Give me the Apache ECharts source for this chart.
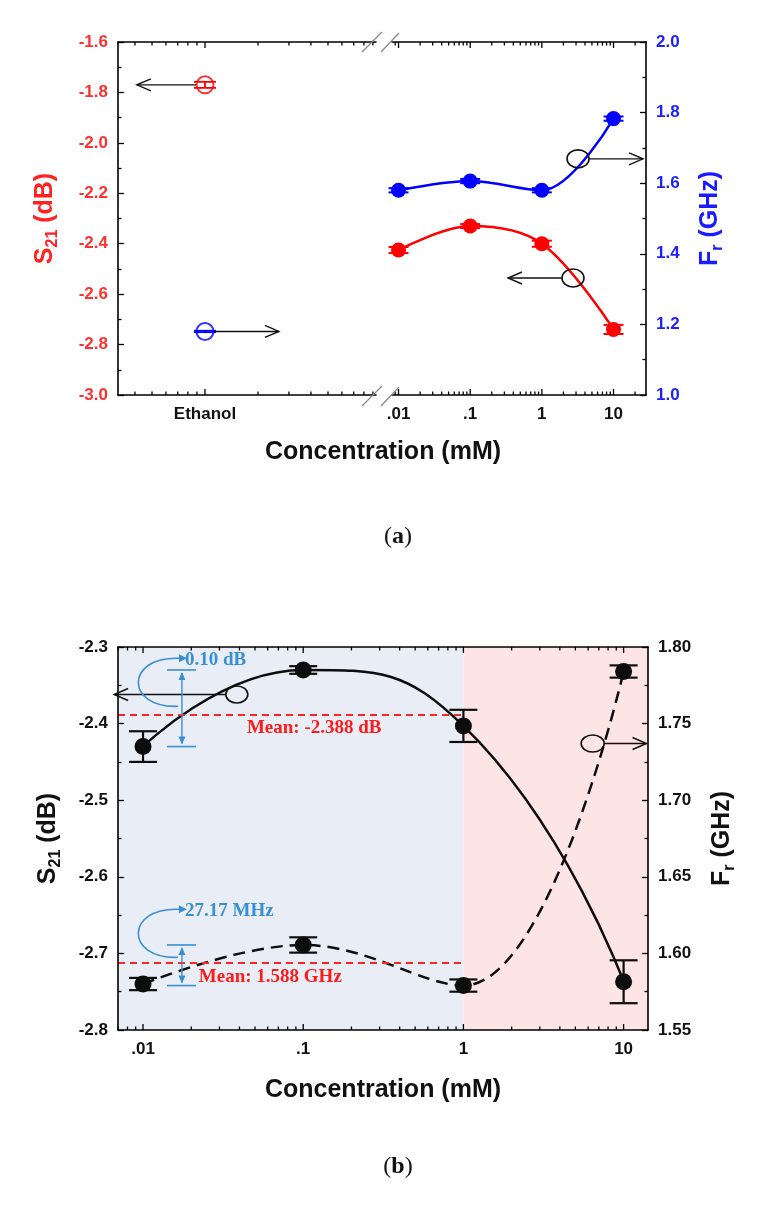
<!DOCTYPE html>
<html>
<head>
<meta charset="utf-8">
<title>S21 and Fr vs concentration</title>
<script src="https://cdn.jsdelivr.net/npm/echarts@6/dist/echarts.min.js"></script>
<style>
html, body { margin: 0; padding: 0; background: #fff; }
#main { width: 757px; height: 1207px; }
</style>
</head>
<body>
<div id="main"></div>
<script>
// ---- panel (a) values ----
var concA = [0.01, 0.1, 1, 10];
var s21A = [-2.425, -2.33, -2.40, -2.74];
var s21ErrA = [0.012, 0.008, 0.012, 0.018];
var frA = [1.58, 1.606, 1.58, 1.783];
var frErrA = [0.006, 0.006, 0.006, 0.006];
var ethanolX = [1];              // where "Ethanol" sits on the left (broken) segment
var ethanolS21 = [-1.77];
var ethanolS21Err = [0.012];
var ethanolFr = [1.18];
var ethanolFrErr = [0.002];

// ---- panel (b) values ----
var concB = [0.01, 0.1, 1, 10];
var s21B = [-2.43, -2.33, -2.403, -2.737];
var s21ErrB = [0.02, 0.005, 0.021, 0.028];
var frB = [1.58, 1.6055, 1.579, 1.784];
var frErrB = [0.004, 0.005, 0.004, 0.004];
var meanS21 = [-2.388];          // dashed line + label
var meanFrText = ['1.588'];      // label value
var meanFrLine = [1.594];        // where the dashed line is drawn in the picture

// ---- tick labels ----
var xTickValues = [0.01, 0.1, 1, 10];
var xTickLabels = ['.01', '.1', '1', '10'];
var ethanolLabel = 'Ethanol';

// axis extents (log axes)
var xMinA0 = 0.3204, xMaxA0 = 9.37;   // left segment of (a)
var xMinA1 = 0.00811, xMaxA1 = 28.4;  // right segment of (a)
var xMinB = 0.00698, xMaxB = 14.2;

var chart = echarts.init(document.getElementById('main'));

//对数坐标刻度（主刻度+次刻度）
function logTicks(min, max) {
    var out = [];
    for (var e = Math.floor(Math.log10(min)); e <= Math.ceil(Math.log10(max)); e++) {
        for (var k = 1; k <= 9; k++) {
            var v = k * Math.pow(10, e);
            if (v > min * 1.0001 && v < max * 0.9999) out.push([v, 0, k === 1 ? 1 : 0]);
        }
    }
    return out;
}

function tickItem(params, api) {
    var cs = params.coordSys;
    var x = api.coord([api.value(0), 0])[0];
    var len = api.value(2) ? 6 : 3.5;
    var top = cs.y, bot = cs.y + cs.height;
    return {
        type: 'group',
        children: [
            { type: 'line', shape: { x1: x, y1: bot, x2: x, y2: bot - len }, style: { stroke: '#000', lineWidth: 1.3 } },
            { type: 'line', shape: { x1: x, y1: top, x2: x, y2: top + len }, style: { stroke: '#000', lineWidth: 1.3 } }
        ]
    };
}

function errorBar(capHalf, color, width) {
    return function (params, api) {
        var x = api.value(0), y = api.value(1), e = api.value(2);
        var hi = api.coord([x, y + e]), lo = api.coord([x, y - e]);
        function st() { return { stroke: color, lineWidth: width }; }
        return {
            type: 'group',
            children: [
                { type: 'line', shape: { x1: hi[0], y1: hi[1], x2: lo[0], y2: lo[1] }, style: st() },
                { type: 'line', shape: { x1: hi[0] - capHalf, y1: hi[1], x2: hi[0] + capHalf, y2: hi[1] }, style: st() },
                { type: 'line', shape: { x1: lo[0] - capHalf, y1: lo[1], x2: lo[0] + capHalf, y2: lo[1] }, style: st() }
            ]
        };
    };
}

function concLabel(v) {
    for (var i = 0; i < xTickValues.length; i++) {
        if (Math.abs(Math.log10(v / xTickValues[i])) < 1e-6) return xTickLabels[i];
    }
    return '';
}

function logAxis(gridIndex, min, max, position, formatter, z) {
    return {
        type: 'log', logBase: 10, gridIndex: gridIndex, position: position,
        min: min, max: max, z: z || 0,
        axisLine: { show: true, lineStyle: { color: '#000', width: 1.6 } },
        axisTick: { show: false },
        minorTick: { show: false },
        splitLine: { show: false },
        axisLabel: formatter ? {
            show: true, interval: 0, margin: 11, fontSize: 17, fontWeight: 'bold',
            color: '#111', formatter: formatter
        } : { show: false }
    };
}

function valueAxis(gridIndex, position, min, max, interval, digits, color, name, nameColor, nameGap, z) {
    return {
        type: 'value', gridIndex: gridIndex, position: position,
        min: min, max: max, interval: interval, z: z || 0,
        axisLine: { show: true, lineStyle: { color: '#000', width: 1.6 } },
        axisTick: { show: true, inside: true, length: 6, lineStyle: { color: '#000', width: 1.3 } },
        minorTick: { show: true, splitNumber: 2, length: 3.5, lineStyle: { color: '#000', width: 1.3 } },
        splitLine: { show: false },
        axisLabel: {
            margin: 10, fontSize: 17, fontWeight: 'bold', color: color,
            formatter: function (v) { return v.toFixed(digits); }
        },
        name: name, nameLocation: 'middle', nameRotate: 90, nameGap: nameGap,
        nameTextStyle: {
            color: nameColor, fontSize: 25, fontWeight: 'bold', lineHeight: 32,
            rich: { s: { color: nameColor, fontSize: 16, fontWeight: 'bold', verticalAlign: 'bottom' } }
        }
    };
}

function hiddenAxis(gridIndex, min, max) {
    return { type: 'value', gridIndex: gridIndex, min: min, max: max, show: false };
}

function pairs(xs, ys, es) {
    return xs.map(function (x, i) { return es ? [x, ys[i], es[i]] : [x, ys[i]]; });
}

var red = '#ff0000', blue = '#0000ff', ink = '#0d0d0d';

var option = {
    animation: false,
    backgroundColor: '#fff',
    textStyle: { fontFamily: 'Liberation Sans' },
    grid: [
        { left: 118, top: 42, width: 258, height: 353, outerBoundsMode: 'none' },
        { left: 392, top: 42, width: 254, height: 353, outerBoundsMode: 'none' },
        { left: 118, top: 647, width: 530, height: 383, outerBoundsMode: 'none' }
    ],
    xAxis: [
        logAxis(0, xMinA0, xMaxA0, 'bottom', function (v) { return Math.abs(v - ethanolX[0]) < 1e-6 ? ethanolLabel : ''; }),
        logAxis(0, xMinA0, xMaxA0, 'top'),
        logAxis(1, xMinA1, xMaxA1, 'bottom', concLabel),
        logAxis(1, xMinA1, xMaxA1, 'top'),
        Object.assign(logAxis(2, xMinB, xMaxB, 'bottom', concLabel, 5), {
            name: 'Concentration (mM)', nameLocation: 'middle', nameGap: 44,
            nameTextStyle: { color: '#111', fontSize: 25, fontWeight: 'bold', lineHeight: 32 }
        }),
        logAxis(2, xMinB, xMaxB, 'top', null, 5)
    ],
    yAxis: [
        valueAxis(0, 'left', -3.0, -1.6, 0.2, 1, '#ff3030', 'S{s|21} (dB)', '#ff2020', 57),
        hiddenAxis(0, 1.0, 2.0),
        hiddenAxis(1, -3.0, -1.6),
        valueAxis(1, 'right', 1.0, 2.0, 0.2, 1, '#2020ff', 'F{s|r} (GHz)', '#1a1aff', 48),
        valueAxis(2, 'left', -2.8, -2.3, 0.1, 1, '#111', 'S{s|21} (dB)', '#111', 54, 5),
        valueAxis(2, 'right', 1.55, 1.80, 0.05, 2, '#111', 'F{s|r} (GHz)', '#111', 58, 5)
    ],
    series: [
        //背景色块
        {
            type: 'line', xAxisIndex: 4, yAxisIndex: 4, data: [], z: 1, silent: true,
            markArea: {
                silent: true,
                data: [
                    [{ xAxis: xMinB, itemStyle: { color: '#e9eef6' } }, { xAxis: 1 }],
                    [{ xAxis: 1, itemStyle: { color: '#fde4e5' } }, { xAxis: xMaxB }]
                ]
            }
        },
        { type: 'custom', xAxisIndex: 0, yAxisIndex: 0, data: logTicks(xMinA0, xMaxA0), renderItem: tickItem, z: 6, silent: true },
        { type: 'custom', xAxisIndex: 2, yAxisIndex: 2, data: logTicks(xMinA1, xMaxA1), renderItem: tickItem, z: 6, silent: true },
        { type: 'custom', xAxisIndex: 4, yAxisIndex: 4, data: logTicks(xMinB, xMaxB), renderItem: tickItem, z: 6, silent: true },

        // (a) ethanol
        {
            type: 'scatter', xAxisIndex: 0, yAxisIndex: 0, data: pairs(ethanolX, ethanolS21),
            symbol: 'emptyCircle', symbolSize: 17, itemStyle: { color: red, borderWidth: 1.8 }, silent: true
        },
        {
            type: 'scatter', xAxisIndex: 0, yAxisIndex: 1, data: pairs(ethanolX, ethanolFr),
            symbol: 'emptyCircle', symbolSize: 17, itemStyle: { color: blue, borderWidth: 1.8 }, silent: true
        },
        { type: 'custom', xAxisIndex: 0, yAxisIndex: 0, data: pairs(ethanolX, ethanolS21, ethanolS21Err), renderItem: errorBar(11, red, 1.8), z: 3, silent: true },
        { type: 'custom', xAxisIndex: 0, yAxisIndex: 1, data: pairs(ethanolX, ethanolFr, ethanolFrErr), renderItem: errorBar(11, blue, 1.8), z: 3, silent: true },

        // (a) concentrations
        {
            type: 'line', xAxisIndex: 2, yAxisIndex: 2, smooth: 0.35, data: pairs(concA, s21A),
            symbol: 'circle', symbolSize: 15, lineStyle: { color: red, width: 2.5 }, itemStyle: { color: red }, silent: true
        },
        {
            type: 'line', xAxisIndex: 2, yAxisIndex: 3, smooth: 0.35, data: pairs(concA, frA),
            symbol: 'circle', symbolSize: 15, lineStyle: { color: blue, width: 2.5 }, itemStyle: { color: blue }, silent: true
        },
        { type: 'custom', xAxisIndex: 2, yAxisIndex: 2, data: pairs(concA, s21A, s21ErrA), renderItem: errorBar(10, red, 2), z: 3, silent: true },
        { type: 'custom', xAxisIndex: 2, yAxisIndex: 3, data: pairs(concA, frA, frErrA), renderItem: errorBar(10, blue, 2), z: 3, silent: true },

        // (b)
        {
            type: 'line', xAxisIndex: 4, yAxisIndex: 4, smooth: 0.5, data: pairs(concB, s21B),
            symbol: 'circle', symbolSize: 17, lineStyle: { color: ink, width: 2.5 }, itemStyle: { color: ink }, silent: true,
            markLine: {
                silent: true, symbol: ['none', 'none'], label: { show: false },
                lineStyle: { color: '#ff2424', type: [7, 5], width: 2 },
                data: [[{ coord: [xMinB, meanS21[0]] }, { coord: [1, meanS21[0]] }]]
            }
        },
        {
            type: 'line', xAxisIndex: 4, yAxisIndex: 5, smooth: 0.4, data: pairs(concB, frB),
            symbol: 'circle', symbolSize: 17, lineStyle: { color: ink, width: 2.5, type: [12, 7] }, itemStyle: { color: ink }, silent: true,
            markLine: {
                silent: true, symbol: ['none', 'none'], label: { show: false },
                lineStyle: { color: '#ff2424', type: [7, 5], width: 2 },
                data: [[{ coord: [xMinB, meanFrLine[0]] }, { coord: [1, meanFrLine[0]] }]]
            }
        },
        { type: 'custom', xAxisIndex: 4, yAxisIndex: 4, data: pairs(concB, s21B, s21ErrB), renderItem: errorBar(14, ink, 2.2), z: 3, silent: true },
        { type: 'custom', xAxisIndex: 4, yAxisIndex: 5, data: pairs(concB, frB, frErrB), renderItem: errorBar(14, ink, 2.2), z: 3, silent: true }
    ]
};
chart.setOption(option);

// ---- annotations (placed through the axes) ----
var callouts = [
    { xi: 0, yi: 0, x: 1, y: -1.77, rx: 9, ry: 9, toX: 0.41, ellipse: false },
    { xi: 0, yi: 1, x: 1, y: 1.18, rx: 9, ry: 9, toX: 2.63, ellipse: false },
    { xi: 2, yi: 3, x: 3.2, y: 1.669, rx: 11, ry: 9, toX: 25.8, ellipse: true },
    { xi: 2, yi: 2, x: 2.72, y: -2.536, rx: 11, ry: 9, toX: 0.337, ellipse: true },
    { xi: 4, yi: 4, x: 0.0385, y: -2.362, rx: 11, ry: 8.5, toX: 0.0066, ellipse: true },
    { xi: 4, yi: 5, x: 6.41, y: 1.737, rx: 11.5, ry: 8.5, toX: 13.9, ellipse: true }
];
var spans = [
    { yi: 4, x: 0.0175, hi: Math.max.apply(null, s21B.slice(0, 3)), lo: Math.min.apply(null, s21B.slice(0, 3)), lift: 2, text: '0.10 dB' },
    { yi: 5, x: 0.0175, hi: Math.max.apply(null, frB.slice(0, 3)), lo: Math.min.apply(null, frB.slice(0, 3)), lift: 8, text: '27.17 MHz' }
];
var meanLabels = [
    { yi: 4, x: 0.0445, y: meanS21[0], dy: 14, text: 'Mean: ' + meanS21[0].toFixed(3) + ' dB' },
    { yi: 5, x: 0.0223, y: meanFrLine[0], dy: 15, text: 'Mean: ' + meanFrText[0] + ' GHz' }
];

function buildGraphics() {
    var g = [];
    function px(xi, yi, x, y) { return chart.convertToPixel({ xAxisIndex: xi, yAxisIndex: yi }, [x, y]); }

    callouts.forEach(function (c) {
        var p = px(c.xi, c.yi, c.x, c.y);
        var tip = px(c.xi, c.yi, c.toX, c.y);
        var dir = tip[0] > p[0] ? 1 : -1;
        if (c.ellipse) {
            g.push({ type: 'ellipse', z: 20, shape: { cx: p[0], cy: p[1], rx: c.rx, ry: c.ry }, style: { fill: 'none', stroke: '#111', lineWidth: 1.6 } });
        }
        g.push({ type: 'line', z: 20, shape: { x1: p[0] + dir * c.rx, y1: p[1], x2: tip[0], y2: p[1] }, style: { stroke: '#111', lineWidth: 1.4 } });
        g.push({
            type: 'polyline', z: 20,
            shape: { points: [[tip[0] - dir * 14, p[1] - 6], [tip[0], p[1]], [tip[0] - dir * 14, p[1] + 6]] },
            style: { stroke: '#111', lineWidth: 1.4, fill: 'none' }
        });
    });

    var sb = '#3a8fd2';
    spans.forEach(function (s) {
        var t = px(4, s.yi, s.x, s.hi), b = px(4, s.yi, s.x, s.lo);
        var x = t[0];
        g.push({ type: 'line', z: 20, shape: { x1: x - 15, y1: t[1], x2: x + 14, y2: t[1] }, style: { stroke: sb, lineWidth: 1.6 } });
        g.push({ type: 'line', z: 20, shape: { x1: x - 15, y1: b[1], x2: x + 14, y2: b[1] }, style: { stroke: sb, lineWidth: 1.6 } });
        g.push({ type: 'line', z: 20, shape: { x1: x, y1: t[1] + 3, x2: x, y2: b[1] - 3 }, style: { stroke: sb, lineWidth: 1.4 } });
        g.push({ type: 'polygon', z: 20, shape: { points: [[x, t[1] + 2], [x - 3.5, t[1] + 10], [x + 3.5, t[1] + 10]] }, style: { fill: sb } });
        g.push({ type: 'polygon', z: 20, shape: { points: [[x, b[1] - 2], [x - 3.5, b[1] - 10], [x + 3.5, b[1] - 10]] }, style: { fill: sb } });
        var sx = x - 4, sy = (t[1] + b[1]) / 2 - s.lift;
        var ex = x - 3, ey = sy - 48;
        g.push({
            type: 'bezierCurve', z: 20,
            shape: { x1: sx, y1: sy, cpx1: sx - 53, cpy1: sy + 2, cpx2: sx - 53, cpy2: ey - 2, x2: ex, y2: ey },
            style: { stroke: sb, lineWidth: 1.6, fill: 'none' }
        });
        g.push({ type: 'polygon', z: 20, shape: { points: [[ex + 8, ey], [ex, ey - 4], [ex, ey + 4]] }, style: { fill: sb } });
        g.push({
            type: 'text', z: 20, x: x + 3, y: ey + 2,
            style: { text: s.text, fill: sb, fontFamily: 'Liberation Serif', fontWeight: 'bold', fontSize: 19, align: 'left', verticalAlign: 'middle' }
        });
    });

    meanLabels.forEach(function (m) {
        var p = px(4, m.yi, m.x, m.y);
        g.push({
            type: 'text', z: 20, x: p[0], y: p[1] + m.dy,
            style: { text: m.text, fill: '#ff1a1a', fontFamily: 'Liberation Serif', fontWeight: 'bold', fontSize: 19, align: 'left', verticalAlign: 'middle' }
        });
    });

    // axis break marks on panel (a)
    [42, 396].forEach(function (yy) {
        g.push({ type: 'line', z: 20, shape: { x1: 362, y1: yy + 10, x2: 382, y2: yy - 10 }, style: { stroke: '#8a8a8a', lineWidth: 1.3 } });
        g.push({ type: 'line', z: 20, shape: { x1: 381, y1: yy + 10, x2: 399, y2: yy - 9 }, style: { stroke: '#8a8a8a', lineWidth: 1.3 } });
    });

    // x title of (a), spanning both segments
    g.push({
        type: 'text', x: 383, y: 452,
        style: { text: 'Concentration (mM)', fill: '#111', fontFamily: 'Liberation Sans', fontWeight: 'bold', fontSize: 25, align: 'center', verticalAlign: 'middle' }
    });

    // panel letters
    [['a', 537], ['b', 1167]].forEach(function (l) {
        g.push({
            type: 'text', x: 398, y: l[1],
            style: {
                text: '({b|' + l[0] + '})', fill: '#111', fontFamily: 'Liberation Serif', fontSize: 24,
                align: 'center', verticalAlign: 'middle',
                rich: { b: { fontFamily: 'Liberation Serif', fontSize: 24, fontWeight: 'bold', fill: '#111' } }
            }
        });
    });
    return g;
}

chart.setOption({ graphic: buildGraphics() });
</script>
</body>
</html>
